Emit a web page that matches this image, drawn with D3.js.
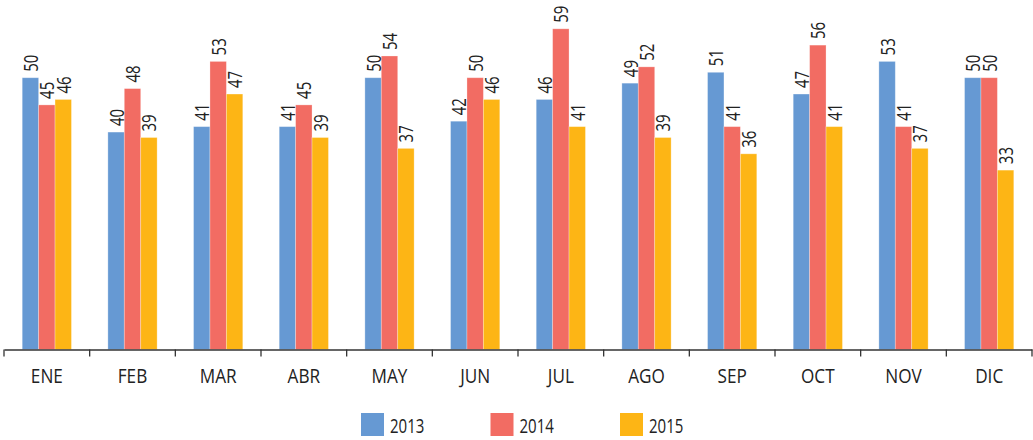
<!DOCTYPE html>
<html>
<head>
<meta charset="utf-8">
<script src="https://cdn.jsdelivr.net/npm/d3@7"></script>
<style>
  body { margin: 0; background: #fff; }
  text { font-family: "Open Sans", sans-serif; fill: #222; }
</style>
</head>
<body>
<div id="chart"></div>
<script>
// Chart data
const months = ['ENE', 'FEB', 'MAR', 'ABR', 'MAY', 'JUN', 'JUL', 'AGO', 'SEP', 'OCT', 'NOV', 'DIC'];
const years = ['2013', '2014', '2015'];
const values2013 = [50, 40, 41, 41, 50, 42, 46, 49, 51, 47, 53, 50];
const values2014 = [45, 48, 53, 45, 54, 50, 59, 52, 41, 56, 41, 50];
const values2015 = [46, 39, 47, 39, 37, 46, 41, 39, 36, 41, 37, 33];
const colors = ['#6699d3', '#f26c63', '#fdb515'];

const series = [values2013, values2014, values2015];

// Size of the svg area
const w = 1033;
const h = 440;
const baseY = 349.5;
// the original font is condensed, so squeeze text horizontally
const digitSqueeze = 0.77;
const letterSqueeze = 0.88;

const svg = d3.select('#chart')
    .append('svg')
    .attr('width', w)
    .attr('height', h);

// Scales
const xScale = d3.scaleBand()
    .domain(months)
    .range([4, 1032])
    .padding(0);

const x1Scale = d3.scaleBand()
    .domain(years)
    .range([0, xScale.bandwidth()])
    .paddingInner(0)
    .paddingOuter(1.11);

const yScale = d3.scaleLinear()
    .domain([0, 64.3])
    .range([baseY, 0]);

const colorScale = d3.scaleOrdinal().domain(years).range(colors);

// Flatten data for drawing
const rows = [];
months.forEach((m, i) => {
  years.forEach((y, j) => {
    rows.push({month: m, year: y, value: series[j][i]});
  });
});

// Bars
svg.selectAll('rect.bar')
    .data(rows)
    .enter()
    .append('rect')
    .attr('class', 'bar')
    .attr('x', (d) => xScale(d.month) + x1Scale(d.year))
    .attr('y', (d) => yScale(d.value))
    .attr('width', x1Scale.bandwidth())
    .attr('height', (d) => baseY - yScale(d.value))
    .attr('fill', (d) => colorScale(d.year))
    .attr('stroke', '#fff')
    .attr('stroke-opacity', 0.35)
    .attr('stroke-width', 0.8);

// Value labels (rotated)
svg.selectAll('text.val')
    .data(rows)
    .enter()
    .append('text')
    .attr('class', 'val')
    .attr('transform', (d) => {
      const cx = xScale(d.month) + x1Scale(d.year) + x1Scale.bandwidth() / 2;
      return 'translate(' + (cx + 7.5) + ',' + (yScale(d.value) - 6) + ') rotate(-90) scale(' + digitSqueeze + ',1)';
    })
    .attr('font-size', 19.5)
    .text((d) => d.value);

// X axis
const xAxis = d3.axisBottom(xScale).tickSize(0).tickSizeOuter(0);
const gx = svg.append('g')
    .attr('transform', 'translate(0,' + baseY + ')')
    .call(xAxis);
gx.select('.domain').attr('stroke', '#333').attr('stroke-width', 1.3);
gx.selectAll('.tick text')
    .attr('y', 0)
    .attr('dy', 0)
    .attr('transform', 'translate(0,33) scale(' + letterSqueeze + ',1)')
    .attr('font-size', 19.5)
    .attr('font-family', '"Open Sans", sans-serif')
    .attr('fill', '#222');

// Tick marks at band boundaries
const bounds = months.map((m) => xScale(m)).concat([xScale.range()[1]]);
gx.selectAll('line.sep')
    .data(bounds)
    .enter()
    .append('line')
    .attr('class', 'sep')
    .attr('x1', (d) => d)
    .attr('x2', (d) => d)
    .attr('y1', 0)
    .attr('y2', 7)
    .attr('stroke', '#333')
    .attr('stroke-width', 1.3);

// Legend
const legendX = d3.scalePoint().domain(years).range([361, 620]);
const legend = svg.selectAll('g.legend')
    .data(years)
    .enter()
    .append('g')
    .attr('class', 'legend')
    .attr('transform', (d) => 'translate(' + legendX(d) + ',413)');

legend.append('rect')
    .attr('width', 23)
    .attr('height', 23)
    .attr('fill', (d) => colorScale(d));

legend.append('text')
    .attr('transform', 'translate(29,19.5) scale(' + digitSqueeze + ',1)')
    .attr('font-size', 19.5)
    .text((d) => d);
</script>
</body>
</html>
